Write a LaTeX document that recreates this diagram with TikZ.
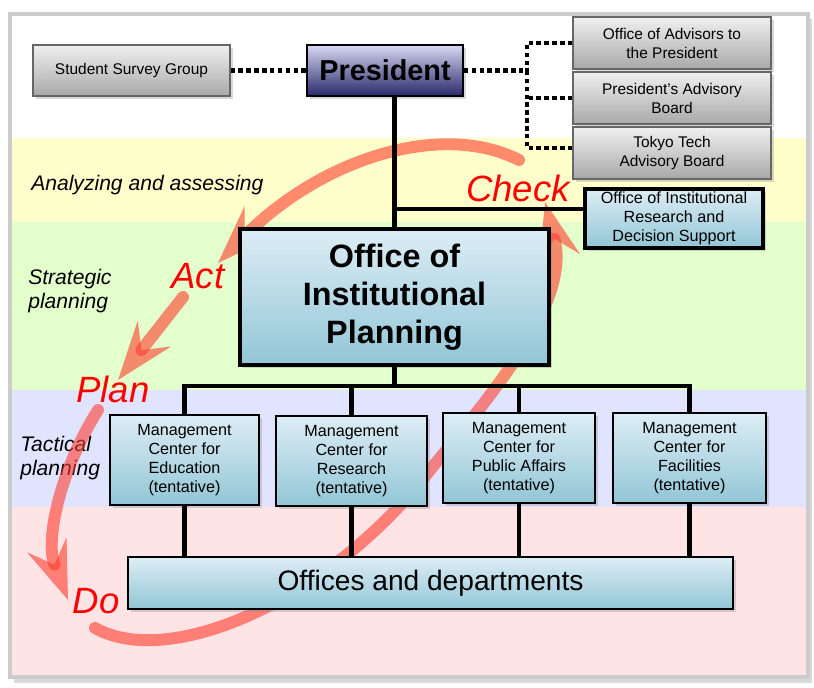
\documentclass[tikz,border=0pt]{standalone}
\usepackage{fontspec}
\setmainfont{Liberation Sans}
\usetikzlibrary{arrows.meta, shadows, calc, positioning}

\definecolor{bandyellow}{RGB}{255,255,204}
\definecolor{bandgreen}{RGB}{226,255,204}
\definecolor{bandblue}{RGB}{224,228,255}
\definecolor{bandpink}{RGB}{255,228,230}
\definecolor{boxtop}{RGB}{221,237,245}
\definecolor{boxbottom}{RGB}{146,198,214}
\definecolor{greytop}{RGB}{240,240,240}
\definecolor{greybottom}{RGB}{168,168,168}
\definecolor{prestop}{RGB}{216,216,245}
\definecolor{presmid}{RGB}{170,170,218}
\definecolor{presbottom}{RGB}{40,40,105}
\definecolor{pdcared}{RGB}{255,60,45}

\tikzset{
  shadowed/.style={drop shadow={shadow xshift=2pt, shadow yshift=-2pt, opacity=0.3}},
  greybox/.style={shadowed, draw=black!60, line width=0.8pt, top color=greytop,
    bottom color=greybottom, align=center, inner sep=0pt,
    font=\fontsize{11}{13.5}\selectfont},
  bluebox/.style={shadowed, draw=black, line width=1pt, top color=boxtop,
    bottom color=boxbottom, align=center, inner sep=0pt,
    font=\fontsize{11.5}{13.5}\selectfont},
  presbox/.style={shadowed, draw=black, line width=1.2pt, top color=prestop,
    middle color=presmid, bottom color=presbottom, inner sep=0pt,
    font=\bfseries\fontsize{20.5}{22}\selectfont},
  stage/.style={anchor=west, align=left, inner sep=0pt,
    font=\itshape\fontsize{15}{16.5}\selectfont},
  cyclelabel/.style={text=red, inner sep=0pt, font=\itshape\fontsize{26}{30}\selectfont},
  pdca/.style={line width=8.5pt, line cap=round, draw=pdcared, opacity=0.6,
    -{Stealth[length=42pt, width=30pt, inset=15pt, line width=0pt]}},
  dots/.style={line width=3.2pt, dash pattern=on 3.2pt off 2.4pt},
  link/.style={line width=3.5pt},
}

\begin{document}
\begin{tikzpicture}[x=0.025cm, y=-0.025cm]
  \useasboundingbox (0,0) rectangle (814,687);

  % frame and planning bands
  \fill[black!15] (14,19) rectangle (812,683);
  \fill[white] (12,14) rectangle (806,138);
  \fill[bandyellow] (12,138) rectangle (806,222);
  \fill[bandgreen] (12,222) rectangle (806,390);
  \fill[bandblue] (12,390) rectangle (806,507);
  \fill[bandpink] (12,507) rectangle (806,676);
  \draw[gray!40, line width=3.5pt] (10,14) rectangle (808,677);

  \node[stage] (analysing) at (31,185) {Analyzing and assessing};
  \node[stage] (strategic) at (28,291) {Strategic\\planning};
  \node[stage] (tactical) at (20,458) {Tactical\\planning};

  % PDCA cycle
  \draw[pdca] (519,160) .. controls (440,120) and (320,160) .. (218,263);
  \draw[pdca] (183,297) -- (118,380);
  \draw[pdca] (98,410) .. controls (60,470) and (45,540) .. (68,600);
  \draw[pdca] (95,628) .. controls (170,670) and (330,600) .. (430,470)
    .. controls (500,385) and (570,300) .. (545,202);

  % top level
  \node[greybox, minimum width=4.925cm, minimum height=1.275cm] (survey) at (131.5,70.5) {Student Survey Group};
  \node[presbox, minimum width=3.9cm, minimum height=1.275cm] (president) at (385,70.5) {President};
  \node[greybox, minimum width=4.95cm, minimum height=1.3cm] (advisors) at (672,43) {Office of Advisors to\\the President};
  \node[greybox, minimum width=4.95cm, minimum height=1.3cm] (advboard) at (672,98) {President’s Advisory\\Board};
  \node[greybox, minimum width=4.95cm, minimum height=1.3cm] (ttboard) at (672,153) {Tokyo Tech\\Advisory Board};

  % planning offices
  \node[bluebox, line width=2.5pt, minimum width=4.45cm, minimum height=1.475cm] (oir) at (674,218.5) {Office of Institutional\\Research and\\Decision Support};
  \node[bluebox, line width=2.8pt, minimum width=7.725cm, minimum height=3.4cm,
    font=\bfseries\fontsize{23}{27}\selectfont] (oip) at (394.5,297) {Office of\\Institutional\\Planning};

  % management centers
  \node[bluebox, minimum width=3.725cm, minimum height=2.25cm] (mc1) at (184.5,460) {Management\\Center for\\Education\\(tentative)};
  \node[bluebox, minimum width=3.775cm, minimum height=2.25cm] (mc2) at (351.5,461) {Management\\Center for\\Research\\(tentative)};
  \node[bluebox, minimum width=3.8cm, minimum height=2.25cm] (mc3) at (519,458) {Management\\Center for\\Public Affairs\\(tentative)};
  \node[bluebox, minimum width=3.825cm, minimum height=2.25cm] (mc4) at (689.5,458) {Management\\Center for\\Facilities\\(tentative)};
  \node[bluebox, minimum width=15.125cm, minimum height=1.3cm,
    font=\fontsize{20}{24}\selectfont] (offices) at (430.5,583) {Offices and departments};

  % dotted links
  \coordinate (hub) at (527,70.5);
  \draw[dots] (survey.east) -- (president.west);
  \draw[dots] (president.east) -- (hub);
  \draw[dots] (advisors.west) -| (hub);
  \draw[dots] ([yshift=3.5pt]ttboard.west) -| (hub);
  \draw[dots] (advboard.west) -- (advboard.west -| hub);

  % solid links
  \coordinate (tee) at (394.5,209);
  \coordinate (bus) at (394.5,386);
  \draw[link] (oip.north |- president.south) -- (oip.north);
  \draw[link] (tee) -- (tee -| oir.west);
  \draw[link] (oip.south) -- (bus);
  \draw[link] (mc1.north) -- (mc1.north |- bus) -- (mc4.north |- bus) -- (mc4.north);
  \draw[link] (mc2.north) -- (mc2.north |- bus);
  \draw[link] (mc3.north) -- (mc3.north |- bus);
  \foreach \c in {mc1, mc2, mc3, mc4}
    \draw[link] (\c.south) -- (\c.south |- offices.north);

  \node[cyclelabel] (check) at (518,188) {Check};
  \node[cyclelabel] (act) at (198,276) {Act};
  \node[cyclelabel] (plan) at (113,389) {Plan};
  \node[cyclelabel] (do) at (96,601) {Do};

\end{tikzpicture}
\end{document}
